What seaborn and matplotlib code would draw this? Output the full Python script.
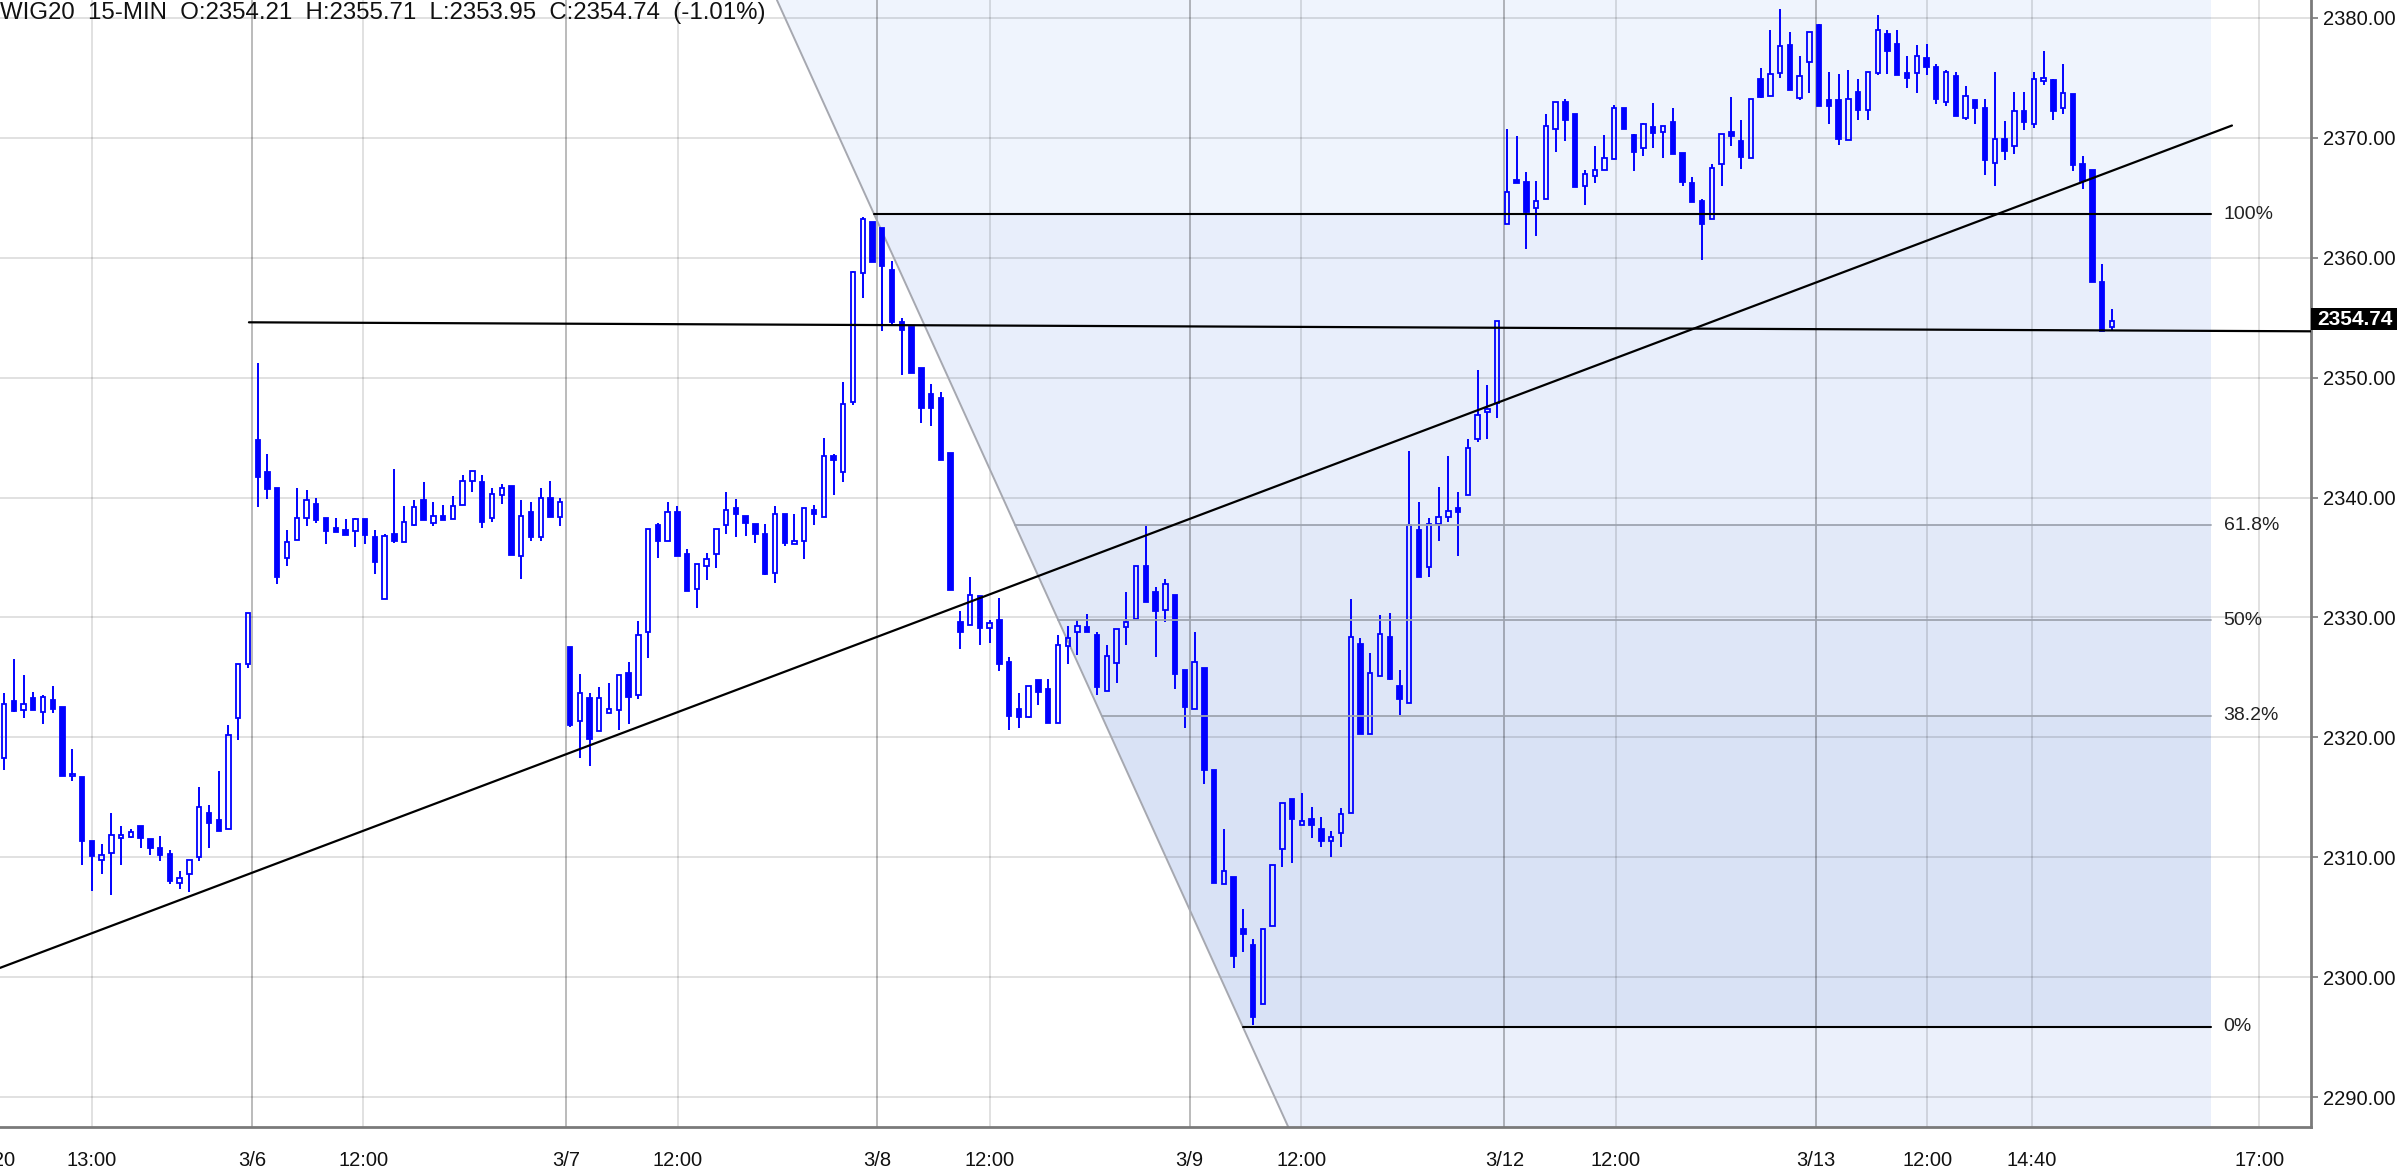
import numpy as np
import pandas as pd
import matplotlib
matplotlib.use("Agg")
import matplotlib.pyplot as plt
import matplotlib.transforms as mtransforms
from matplotlib.patches import Polygon, Rectangle
import seaborn as sns

# ---------------- data ----------------
opens = [2318.3, 2323.0, 2322.3, 2323.3, 2322.1, 2323.1, 2322.5, 2316.8, 2316.7, 2311.4,
         2309.8, 2310.4, 2311.6, 2311.7, 2312.6, 2311.5, 2310.8, 2310.3, 2307.9, 2308.6,
         2310.0, 2313.7, 2313.1, 2312.4, 2321.6, 2326.1, 2344.8, 2342.1, 2340.8, 2335.0,
         2336.5, 2338.3, 2339.5, 2338.3, 2337.5, 2337.3, 2337.2, 2338.2, 2336.7, 2331.5,
         2337.0, 2336.3, 2337.7, 2339.8, 2337.9, 2338.5, 2338.2, 2339.4, 2341.4, 2341.3,
         2338.3, 2340.2, 2341.0, 2335.1, 2338.8, 2336.7, 2340.0, 2338.4, 2327.5, 2321.4,
         2323.3, 2320.5, 2322.0, 2322.3, 2325.4, 2323.5, 2328.8, 2337.7, 2336.4, 2338.8,
         2335.3, 2332.4, 2334.3, 2335.3, 2337.7, 2339.1, 2338.5, 2337.8, 2337.0, 2333.7,
         2338.6, 2336.1, 2336.4, 2339.0, 2338.4, 2343.5, 2342.1, 2348.0, 2358.7, 2363.0,
         2362.5, 2359.0, 2354.6, 2354.2, 2350.8, 2348.6, 2348.3, 2343.7, 2329.6, 2329.4,
         2331.8, 2329.1, 2329.8, 2326.3, 2322.4, 2321.7, 2324.8, 2324.0, 2321.2, 2327.6,
         2328.8, 2329.2, 2328.5, 2323.9, 2326.2, 2329.2, 2329.9, 2334.3, 2332.1, 2330.6,
         2331.9, 2325.6, 2322.4, 2325.8, 2317.3, 2307.8, 2308.4, 2304.0, 2302.7, 2297.8,
         2304.3, 2310.7, 2314.9, 2312.7, 2313.2, 2312.4, 2311.4, 2312.0, 2313.7, 2327.8,
         2320.3, 2325.1, 2328.4, 2324.3, 2322.9, 2337.3, 2334.2, 2337.8, 2338.4, 2339.1,
         2340.2, 2344.9, 2347.1, 2347.9, 2362.8, 2366.5, 2366.3, 2364.1, 2364.9, 2370.7,
         2373.0, 2372.0, 2366.0, 2366.8, 2367.3, 2368.2, 2372.5, 2370.2, 2369.1, 2370.9,
         2370.5, 2371.3, 2368.7, 2366.2, 2364.7, 2363.2, 2367.8, 2370.5, 2369.7, 2368.3,
         2374.9, 2373.5, 2375.4, 2377.7, 2373.3, 2376.3, 2379.4, 2373.1, 2373.1, 2369.8,
         2373.8, 2372.3, 2375.4, 2378.6, 2377.8, 2375.4, 2375.4, 2376.6, 2375.9, 2373.0,
         2375.1, 2371.6, 2373.1, 2372.5, 2367.9, 2369.9, 2369.3, 2372.2, 2371.1, 2374.7,
         2374.8, 2372.5, 2373.6, 2367.8, 2367.3, 2358.0, 2354.21]
highs = [2323.7, 2326.5, 2325.2, 2323.8, 2323.5, 2324.3, 2322.5, 2319.0, 2316.7, 2311.4,
         2311.1, 2313.7, 2312.6, 2312.4, 2312.6, 2311.5, 2311.8, 2310.6, 2308.9, 2309.8,
         2315.9, 2314.4, 2317.2, 2321.0, 2326.1, 2330.4, 2351.2, 2343.6, 2340.8, 2337.3,
         2340.8, 2340.6, 2340.0, 2338.3, 2338.3, 2338.2, 2338.3, 2338.2, 2337.3, 2337.0,
         2342.4, 2339.3, 2339.8, 2341.3, 2339.6, 2339.4, 2340.1, 2341.9, 2342.2, 2341.9,
         2340.8, 2341.1, 2341.0, 2339.8, 2339.6, 2340.8, 2341.4, 2340.0, 2327.5, 2325.3,
         2323.7, 2324.2, 2324.5, 2325.2, 2326.3, 2329.7, 2337.4, 2337.9, 2339.6, 2339.3,
         2335.7, 2334.5, 2335.4, 2337.4, 2340.5, 2339.9, 2338.5, 2337.8, 2337.8, 2339.3,
         2338.6, 2338.6, 2339.1, 2339.4, 2345.0, 2343.6, 2349.6, 2358.9, 2363.4, 2363.0,
         2362.5, 2359.7, 2355.0, 2354.2, 2350.8, 2349.5, 2348.8, 2343.7, 2330.5, 2333.4,
         2331.8, 2329.8, 2331.6, 2326.7, 2323.7, 2324.3, 2324.8, 2324.9, 2328.5, 2329.3,
         2329.8, 2330.3, 2328.8, 2327.7, 2329.0, 2332.1, 2334.3, 2337.6, 2332.5, 2333.2,
         2331.9, 2325.6, 2328.8, 2325.8, 2317.3, 2312.4, 2308.4, 2305.7, 2303.2, 2304.0,
         2309.4, 2314.5, 2314.9, 2315.4, 2314.2, 2313.4, 2312.2, 2314.1, 2331.5, 2328.3,
         2327.0, 2330.2, 2330.4, 2325.6, 2343.9, 2339.6, 2338.3, 2340.9, 2343.5, 2340.5,
         2344.9, 2350.6, 2349.4, 2354.7, 2370.7, 2370.1, 2367.1, 2366.4, 2372.0, 2373.0,
         2373.2, 2372.0, 2367.3, 2369.3, 2370.2, 2372.7, 2372.5, 2370.3, 2371.2, 2372.9,
         2371.0, 2372.5, 2368.7, 2366.7, 2364.9, 2367.8, 2370.3, 2373.4, 2371.5, 2373.2,
         2375.8, 2379.0, 2380.7, 2378.8, 2376.8, 2378.8, 2379.5, 2375.5, 2375.3, 2375.6,
         2374.9, 2375.5, 2380.2, 2379.0, 2379.0, 2376.8, 2377.7, 2377.8, 2376.1, 2375.6,
         2375.5, 2374.3, 2373.1, 2373.2, 2375.5, 2371.4, 2373.8, 2373.8, 2375.5, 2377.2,
         2374.9, 2376.1, 2373.6, 2368.5, 2367.3, 2359.5, 2355.71]
lows = [2317.3, 2322.1, 2321.6, 2322.3, 2321.1, 2322.0, 2316.8, 2316.4, 2309.4, 2307.2,
        2308.6, 2306.9, 2309.4, 2311.6, 2310.8, 2310.2, 2309.7, 2307.8, 2307.4, 2307.1,
        2309.7, 2310.8, 2312.2, 2312.4, 2319.8, 2325.8, 2339.2, 2339.9, 2332.8, 2334.3,
        2336.5, 2337.6, 2337.9, 2336.1, 2337.1, 2336.9, 2335.9, 2336.1, 2333.6, 2331.5,
        2336.2, 2336.3, 2337.6, 2338.1, 2337.6, 2338.1, 2338.2, 2339.4, 2340.5, 2337.5,
        2338.0, 2339.5, 2335.2, 2333.2, 2336.4, 2336.4, 2338.4, 2337.6, 2320.9, 2318.3,
        2317.6, 2320.5, 2322.0, 2320.6, 2321.1, 2323.2, 2326.6, 2335.0, 2336.4, 2335.1,
        2332.2, 2330.8, 2333.1, 2334.1, 2337.0, 2336.7, 2336.8, 2336.2, 2333.5, 2332.9,
        2336.0, 2336.1, 2334.9, 2337.7, 2338.4, 2340.2, 2341.3, 2347.7, 2356.6, 2359.6,
        2353.9, 2354.3, 2350.2, 2350.4, 2346.2, 2346.0, 2343.1, 2332.3, 2327.4, 2329.4,
        2327.7, 2327.9, 2325.5, 2320.6, 2320.8, 2321.6, 2322.7, 2321.2, 2321.2, 2326.1,
        2326.9, 2328.8, 2323.5, 2323.9, 2324.5, 2327.7, 2329.9, 2331.3, 2326.7, 2329.6,
        2324.0, 2320.8, 2322.4, 2316.1, 2307.9, 2307.8, 2300.8, 2302.1, 2296.0, 2297.8,
        2304.3, 2309.2, 2309.5, 2312.7, 2311.6, 2310.9, 2310.0, 2310.9, 2313.7, 2320.3,
        2320.3, 2325.1, 2324.8, 2321.9, 2322.9, 2333.4, 2333.4, 2336.4, 2338.0, 2335.1,
        2340.2, 2344.6, 2344.9, 2346.6, 2362.8, 2366.2, 2360.7, 2361.8, 2364.9, 2368.8,
        2369.7, 2365.9, 2364.4, 2366.2, 2367.3, 2368.2, 2370.7, 2367.2, 2368.5, 2369.1,
        2368.3, 2368.6, 2366.0, 2364.6, 2359.8, 2363.2, 2366.0, 2369.3, 2367.4, 2368.3,
        2373.3, 2373.5, 2375.0, 2374.0, 2373.1, 2373.7, 2372.6, 2371.1, 2369.4, 2369.8,
        2371.5, 2371.5, 2375.2, 2375.3, 2375.2, 2374.1, 2373.7, 2375.2, 2372.8, 2372.6,
        2371.8, 2371.5, 2371.1, 2366.9, 2366.0, 2368.1, 2368.6, 2370.6, 2370.8, 2374.4,
        2371.5, 2372.0, 2367.2, 2365.7, 2358.0, 2353.9, 2353.95]
closes = [2322.8, 2322.2, 2322.8, 2322.3, 2323.4, 2322.4, 2316.8, 2316.9, 2311.4, 2310.1,
          2310.2, 2311.9, 2311.9, 2312.1, 2311.6, 2310.8, 2310.2, 2308.0, 2308.3, 2309.8,
          2314.2, 2312.9, 2312.2, 2320.2, 2326.1, 2330.4, 2341.7, 2340.7, 2333.4, 2336.3,
          2338.3, 2339.8, 2338.1, 2337.2, 2337.1, 2336.9, 2338.2, 2336.9, 2334.6, 2336.8,
          2336.4, 2338.0, 2339.2, 2338.1, 2338.5, 2338.1, 2339.3, 2341.4, 2342.2, 2338.0,
          2340.3, 2340.8, 2335.2, 2338.5, 2336.7, 2340.0, 2338.4, 2339.6, 2321.0, 2323.7,
          2319.9, 2323.3, 2322.4, 2325.2, 2323.4, 2328.5, 2337.4, 2336.4, 2338.8, 2335.1,
          2332.2, 2334.5, 2334.9, 2337.4, 2339.0, 2338.6, 2337.9, 2337.0, 2333.6, 2338.6,
          2336.2, 2336.4, 2339.1, 2338.6, 2343.5, 2343.1, 2347.8, 2358.8, 2363.2, 2359.6,
          2359.3, 2354.6, 2354.0, 2350.4, 2347.5, 2347.5, 2343.1, 2332.3, 2328.8, 2331.9,
          2329.1, 2329.5, 2326.1, 2321.8, 2321.7, 2324.3, 2323.8, 2321.2, 2327.7, 2328.3,
          2329.3, 2328.8, 2324.2, 2326.8, 2329.0, 2329.6, 2334.3, 2331.3, 2330.5, 2332.8,
          2325.3, 2322.5, 2326.3, 2317.3, 2307.9, 2308.9, 2301.8, 2303.6, 2296.7, 2304.0,
          2309.4, 2314.5, 2313.2, 2313.0, 2312.7, 2311.4, 2311.7, 2313.6, 2328.4, 2320.3,
          2325.4, 2328.6, 2324.9, 2323.2, 2337.7, 2333.4, 2337.8, 2338.4, 2338.9, 2338.8,
          2344.1, 2346.9, 2347.4, 2354.7, 2365.5, 2366.2, 2363.8, 2364.7, 2371.0, 2373.0,
          2371.5, 2365.9, 2367.0, 2367.3, 2368.3, 2372.5, 2370.7, 2368.8, 2371.1, 2370.4,
          2371.0, 2368.6, 2366.3, 2364.6, 2362.8, 2367.5, 2370.3, 2370.1, 2368.4, 2373.2,
          2373.4, 2375.3, 2377.6, 2374.0, 2375.1, 2378.8, 2372.6, 2372.6, 2369.9, 2373.2,
          2372.3, 2375.5, 2379.0, 2377.2, 2375.2, 2375.0, 2376.8, 2375.9, 2373.2, 2375.5,
          2371.8, 2373.5, 2372.5, 2368.1, 2369.9, 2368.9, 2372.2, 2371.3, 2374.9, 2375.0,
          2372.2, 2373.7, 2367.7, 2366.4, 2358.0, 2353.9, 2354.74]

# x-axis ticks (bar-index positions) and their labels
tick_pos = [9.0, 25.46, 36.82, 57.6, 69.05, 89.5, 101.03, 121.5, 132.94,
            153.75, 165.16, 185.66, 197.08, 207.79, 231.1]
tick_labels = ["13:00", "3/6", "12:00", "3/7", "12:00", "3/8", "12:00", "3/9", "12:00",
               "3/12", "12:00", "3/13", "12:00", "14:40", "17:00"]
day_labels = {"3/6", "3/7", "3/8", "3/9", "3/12", "3/13"}
y_ticks = [2290, 2300, 2310, 2320, 2330, 2340, 2350, 2360, 2370, 2380]

# drawing tools
trend_x = [-0.41, 228.3]
trend_y = [2300.8, 2371.0]
hline_x = [25.1, 236.4]
hline_y = [2354.6, 2353.85]
diag_x = [79.2, 131.6]
diag_y = [2381.46, 2287.54]
fib_levels = [2363.6, 2337.7, 2329.75, 2321.8, 2295.9]
fib_names = ["100%", "61.8%", "50%", "38.2%", "0%"]
fib_right = 226.2
last_price = 2354.74
title = "WIG20  15-MIN  O:2354.21  H:2355.71  L:2353.95  C:2354.74  (-1.01%)"

# ---------------- figure ----------------
sns.set_style("white")
plt.rcParams['font.family'] = ['Liberation Sans', 'DejaVu Sans']

W, H = 2397, 1170
fig = plt.figure(figsize=(W / 100, H / 100), dpi=100)
ax = fig.add_axes([0, 43 / H, 2311 / W, 1127 / H])
XMIN, XMAX = -0.41, 236.4
YMIN, YMAX = 2287.54, 2381.46
ax.set_xlim(XMIN, XMAX)
ax.set_ylim(YMIN, YMAX)

df = pd.DataFrame({"open": opens, "high": highs, "low": lows, "close": closes})
df["x"] = np.arange(len(df))
df["top"] = df[["open", "close"]].max(axis=1)
df["bot"] = df[["open", "close"]].min(axis=1)
df["up"] = df["close"] >= df["open"]

# ---- fib shading bands (right of the diagonal) ----
def diag_at(v):
    return np.interp(v, diag_y[::-1], diag_x[::-1])

bounds = [YMAX] + fib_levels + [YMIN]
band_colors = ["#eff4fd", "#e8eefb", "#e2e9f8", "#dee6f7", "#d9e2f5", "#ebf0fb"]
for (vhi, vlo, col) in zip(bounds[:-1], bounds[1:], band_colors):
    poly = Polygon([(diag_at(vhi), vhi), (fib_right, vhi), (fib_right, vlo), (diag_at(vlo), vlo)],
                   closed=True, facecolor=col, edgecolor="none", zorder=0)
    ax.add_patch(poly)

# ---- grid ----
for v in y_ticks:
    ax.axhline(v, color="black", alpha=0.12, lw=1.4, zorder=1)
for p, lab in zip(tick_pos, tick_labels):
    ax.axvline(p, color="black", alpha=0.27 if lab in day_labels else 0.12, lw=1.4, zorder=1)

# ---- fib lines ----
for lvl, name in zip(fib_levels, fib_names):
    strong = name in ("100%", "0%")
    ax.plot([diag_at(lvl), fib_right], [lvl, lvl], color="black" if strong else "#9ea4b0",
            lw=1.5 if strong else 1.3, zorder=4)
    ax.text(fib_right + 1.25, lvl, name, ha="left", va="center", fontsize=14, color="#222222")

# diagonal boundary
ax.plot(diag_x, diag_y, color="#a6a8b0", lw=1.4, zorder=2)

# ---- candles ----
blue = "#0000ff"
ax.vlines(df["x"], df["top"], df["high"], color=blue, lw=1.4, zorder=3)
ax.vlines(df["x"], df["low"], df["bot"], color=blue, lw=1.4, zorder=3)
heights = np.maximum(df["top"] - df["bot"], 0.12)
up = df["up"].values
ax.bar(df["x"][up], heights[up], bottom=df["bot"][up], width=0.45,
       facecolor="none", edgecolor=blue, linewidth=1.3, zorder=3)
ax.bar(df["x"][~up], heights[~up], bottom=df["bot"][~up], width=0.45,
       facecolor=blue, edgecolor=blue, linewidth=1.3, zorder=3)

# ---- trend lines ----
sns.lineplot(x=trend_x, y=trend_y, ax=ax, color="black", lw=1.6, zorder=5)
sns.lineplot(x=hline_x, y=hline_y, ax=ax, color="black", lw=1.6, zorder=5)

# ---- axes styling ----
for s in ["left", "top"]:
    ax.spines[s].set_visible(False)
for s in ["right", "bottom"]:
    ax.spines[s].set_color("#7a7a7a")
    ax.spines[s].set_linewidth(2.0)
ax.yaxis.tick_right()
ax.set_yticks(y_ticks)
ax.set_yticklabels([f"{v:.2f}" for v in y_ticks])
ax.set_xticks(tick_pos)
ax.set_xticklabels(tick_labels)
ax.tick_params(axis="y", direction="out", length=5, width=1.2, color="#7a7a7a",
               labelsize=14.5, pad=4, labelcolor="#111111")
ax.tick_params(axis="x", direction="out", length=9, width=1.2, color="#9a9a9a",
               labelsize=14.5, pad=8, labelcolor="#111111")
ax.set_xlabel("")
ax.set_ylabel("")
if ax.get_legend():
    ax.get_legend().remove()

# partially visible label at the far left (clipped by the figure edge as in the reference)
fig.canvas.draw()
bb = ax.get_xticklabels()[0].get_window_extent()
ax.text(XMIN - 0.95, (bb.y0 + bb.y1) / 2 / H, "10:20",
        transform=mtransforms.blended_transform_factory(ax.transData, fig.transFigure),
        ha="center", va="center", fontsize=14.5, color="#111111", clip_on=False)

# ---- last price box ----
ypix = ax.transData.transform((0, last_price))[1]
yfig = ypix / H
bh = 22 / H
fig.patches.append(Rectangle((2311 / W, yfig - bh / 2 + 1.5 / H), 1 - 2311 / W, bh,
                             transform=fig.transFigure, facecolor="black", edgecolor="none",
                             zorder=10))
fig.text((2313 + 2397) / 2 / W, yfig + 1.5 / H, f"{last_price:.2f}", ha="center", va="center",
         color="white", fontsize=15, fontweight="bold", zorder=11)

# ---- title ----
fig.text(0.0, 1 - 13 / H, title, ha="left", va="center", fontsize=17.3, color="#111111")

fig.savefig("out.png", dpi=100)
